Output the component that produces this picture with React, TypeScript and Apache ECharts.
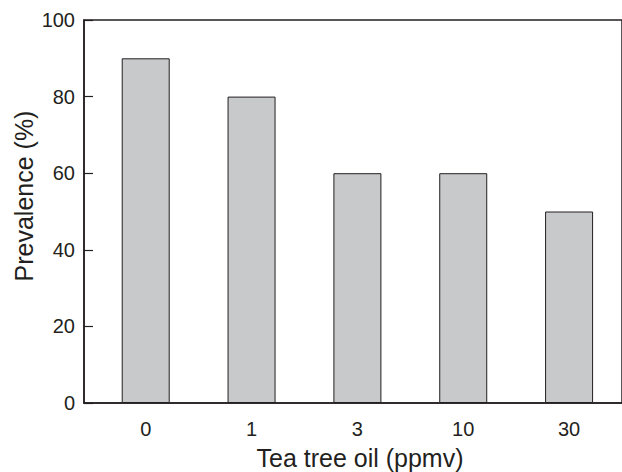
import React, { useEffect, useRef } from "react";
import * as echarts from "echarts";

const categories = ["0", "1", "3", "10", "30"];
const prevalence = [90, 80, 60, 60, 50];
const xTitle = "Tea tree oil (ppmv)";
const yTitle = "Prevalence (%)";

export default function App() {
  const ref = useRef<HTMLDivElement>(null);
  useEffect(() => {
    if (!ref.current) return;
    const chart = echarts.init(ref.current, null, { renderer: "svg" });
    const font = "'Liberation Sans', Arial, Helvetica, sans-serif";
    const ink = "#231f20";
    chart.setOption({
      animation: false,
      backgroundColor: "#ffffff",
      grid: {
        left: 84,
        right: -3,
        top: 20,
        bottom: 69,
        show: true,
        borderColor: ink,
        borderWidth: 1.5,
        backgroundColor: "transparent",
      },
      xAxis: {
        type: "value",
        min: -0.583,
        max: 4.5,
        splitLine: { show: false },
        axisLine: { show: true, onZero: false, lineStyle: { color: ink, width: 1.5 } },
        axisTick: { show: false },
        axisLabel: {
          customValues: categories.map((_, i) => i),
          formatter: (v: number) => categories[Math.round(v)] ?? "",
          color: ink,
          fontSize: 20,
          fontFamily: font,
          margin: 16,
        },
      },
      yAxis: {
        type: "value",
        min: 0,
        max: 100,
        interval: 20,
        splitLine: { show: false },
        axisLine: { show: true, onZero: false, lineStyle: { color: ink, width: 1.5 } },
        axisTick: { show: true, inside: true, length: 9, lineStyle: { color: ink, width: 1.2 } },
        axisLabel: {
          color: ink,
          fontSize: 20,
          fontFamily: font,
          margin: 9,
        },
      },
      graphic: [
        {
          type: "text",
          x: 360,
          y: 458,
          style: {
            text: xTitle,
            fill: ink,
            font: `25px ${font}`,
            align: "center",
            verticalAlign: "middle",
          },
        },
        {
          type: "text",
          x: 24,
          y: 196,
          rotation: Math.PI / 2,
          style: {
            text: yTitle,
            fill: ink,
            font: `25px ${font}`,
            align: "center",
            verticalAlign: "middle",
          },
        },
      ],
      series: [
        {
          type: "bar",
          data: prevalence.map((v, i) => [i, v]),
          barWidth: 48,
          itemStyle: { color: "#c8c9cb", borderColor: ink, borderWidth: 1 },
        },
      ],
    });
    return () => chart.dispose();
  }, []);
  return (
    <div
      ref={ref}
      style={{ position: "absolute", left: 0, top: 0, width: 622, height: 472 }}
    />
  );
}
